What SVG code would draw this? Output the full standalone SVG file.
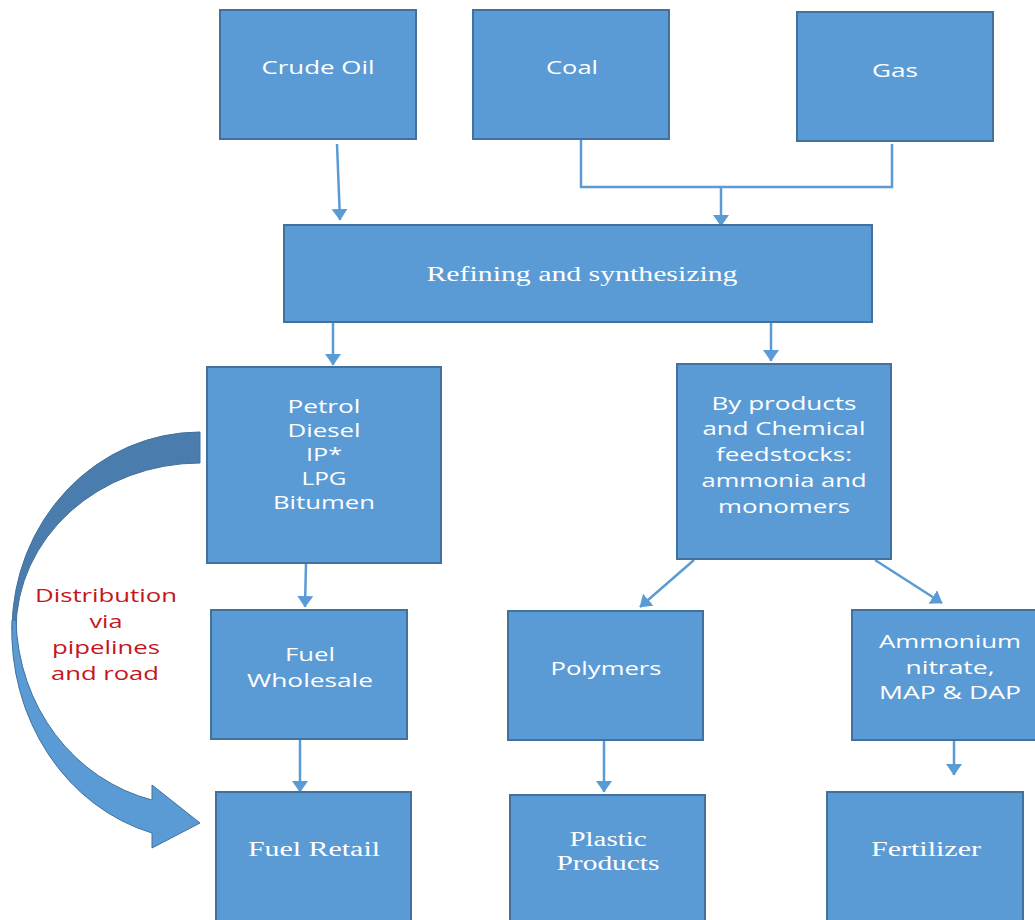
<svg xmlns="http://www.w3.org/2000/svg" width="1035" height="920" viewBox="0 0 1035 920">
<style>
.box{fill:#5B9BD5;stroke:#41719C;stroke-width:2}
.t{fill:#fff;font-family:"Open Sans","DejaVu Sans",sans-serif;font-size:19px;text-anchor:middle}
.s{fill:#fff;font-family:"Liberation Serif",serif;font-size:20px;text-anchor:middle}
.r{fill:#C5161D;font-family:"Open Sans","DejaVu Sans",sans-serif;font-size:18px;text-anchor:middle}
.c{fill:none;stroke:#5B9BD5;stroke-width:2.5}
</style>
<defs>
<marker id="a" markerWidth="12" markerHeight="17" refX="11" refY="8.5" orient="auto" markerUnits="userSpaceOnUse" viewBox="0 0 12 17">
<path d="M0,0.5 L11.5,8.5 L0,16.5 Z" fill="#5B9BD5"/>
</marker>
</defs>
<rect width="1035" height="920" fill="#fff"/>
<g id="curved-arrow">
<path d="M200,432 A188,198 0 0 0 12,630 L16,630 A184,167 0 0 1 200,463 Z" fill="#4A7DAD" stroke="#41719C" stroke-width="1"/>
<path d="M12,620 A190,210 0 0 0 152,833 L152,848 L200,823 L152,785 L152,800 A178,190 0 0 1 16,620 Z" fill="#5B9BD5" stroke="#41719C" stroke-width="1"/>
</g>
<g id="connectors">
<line class="c" x1="337" y1="144" x2="340" y2="220" marker-end="url(#a)"/>
<polyline class="c" stroke-width="1.2" points="581,139 581,187 892,187 892,144"/>
<line class="c" x1="721" y1="187" x2="721" y2="226" marker-end="url(#a)"/>
<line class="c" x1="333" y1="323" x2="333" y2="365" marker-end="url(#a)"/>
<line class="c" x1="771" y1="322" x2="771" y2="361" marker-end="url(#a)"/>
<line class="c" x1="306" y1="563" x2="305" y2="607" marker-end="url(#a)"/>
<line class="c" x1="694" y1="560" x2="640" y2="607" marker-end="url(#a)"/>
<line class="c" x1="875" y1="560" x2="942" y2="603" marker-end="url(#a)"/>
<line class="c" x1="300" y1="740" x2="300" y2="792" marker-end="url(#a)"/>
<line class="c" x1="604" y1="740" x2="604" y2="792" marker-end="url(#a)"/>
<line class="c" x1="954" y1="740" x2="954" y2="775" marker-end="url(#a)"/>
</g>
<g id="crude-oil"><rect class="box" x="220" y="10" width="196" height="129"/><text class="t" x="318" y="74" textLength="113" lengthAdjust="spacingAndGlyphs">Crude Oil</text></g>
<g id="coal"><rect class="box" x="473" y="10" width="196" height="129"/><text class="t" x="572" y="74" textLength="52" lengthAdjust="spacingAndGlyphs">Coal</text></g>
<g id="gas"><rect class="box" x="797" y="12" width="196" height="129"/><text class="t" x="895" y="77" textLength="46" lengthAdjust="spacingAndGlyphs">Gas</text></g>
<g id="refining"><rect class="box" x="284" y="225" width="588" height="97"/><text class="s" x="582" y="281" textLength="311" lengthAdjust="spacingAndGlyphs">Refining and synthesizing</text></g>
<g id="fuels"><rect class="box" x="207" y="367" width="234" height="196"/>
<text class="t" x="324" y="413" textLength="73" lengthAdjust="spacingAndGlyphs">Petrol</text>
<text class="t" x="324" y="437" textLength="73" lengthAdjust="spacingAndGlyphs">Diesel</text>
<text class="t" x="324" y="461" textLength="36" lengthAdjust="spacingAndGlyphs">IP*</text>
<text class="t" x="324" y="485" textLength="45" lengthAdjust="spacingAndGlyphs">LPG</text>
<text class="t" x="324" y="509" textLength="102" lengthAdjust="spacingAndGlyphs">Bitumen</text></g>
<g id="byproducts"><rect class="box" x="677" y="364" width="214" height="195"/>
<text class="t" x="784" y="410" textLength="145" lengthAdjust="spacingAndGlyphs">By products</text>
<text class="t" x="784" y="435" textLength="163" lengthAdjust="spacingAndGlyphs">and Chemical</text>
<text class="t" x="784" y="461" textLength="136" lengthAdjust="spacingAndGlyphs">feedstocks:</text>
<text class="t" x="784" y="487" textLength="165" lengthAdjust="spacingAndGlyphs">ammonia and</text>
<text class="t" x="784" y="513" textLength="132" lengthAdjust="spacingAndGlyphs">monomers</text></g>
<g id="distribution-label">
<text class="r" x="106" y="602" textLength="142" lengthAdjust="spacingAndGlyphs">Distribution</text>
<text class="r" x="106" y="628" textLength="33" lengthAdjust="spacingAndGlyphs">via</text>
<text class="r" x="106" y="654" textLength="108" lengthAdjust="spacingAndGlyphs">pipelines</text>
<text class="r" x="105" y="680" textLength="108" lengthAdjust="spacingAndGlyphs">and road</text></g>
<g id="wholesale"><rect class="box" x="211" y="610" width="196" height="129"/>
<text class="t" x="310" y="661" textLength="50" lengthAdjust="spacingAndGlyphs">Fuel</text>
<text class="t" x="310" y="687" textLength="126" lengthAdjust="spacingAndGlyphs">Wholesale</text></g>
<g id="polymers"><rect class="box" x="508" y="611" width="195" height="129"/>
<text class="t" x="606" y="675" textLength="111" lengthAdjust="spacingAndGlyphs">Polymers</text></g>
<g id="ammonium"><rect class="box" x="852" y="610" width="190" height="130"/>
<text class="t" x="950" y="648" textLength="142" lengthAdjust="spacingAndGlyphs">Ammonium</text>
<text class="t" x="950" y="674" textLength="89" lengthAdjust="spacingAndGlyphs">nitrate,</text>
<text class="t" x="950" y="699" textLength="142" lengthAdjust="spacingAndGlyphs">MAP &amp; DAP</text></g>
<g id="retail"><rect class="box" x="216" y="792" width="195" height="135"/>
<text class="s" x="314" y="856" textLength="132" lengthAdjust="spacingAndGlyphs">Fuel Retail</text></g>
<g id="plastic"><rect class="box" x="510" y="795" width="195" height="132"/>
<text class="s" x="608" y="846" textLength="77" lengthAdjust="spacingAndGlyphs">Plastic</text>
<text class="s" x="608" y="870" textLength="103" lengthAdjust="spacingAndGlyphs">Products</text></g>
<g id="fertilizer"><rect class="box" x="827" y="792" width="196" height="135"/>
<text class="s" x="926" y="856" textLength="110" lengthAdjust="spacingAndGlyphs">Fertilizer</text></g>
</svg>
